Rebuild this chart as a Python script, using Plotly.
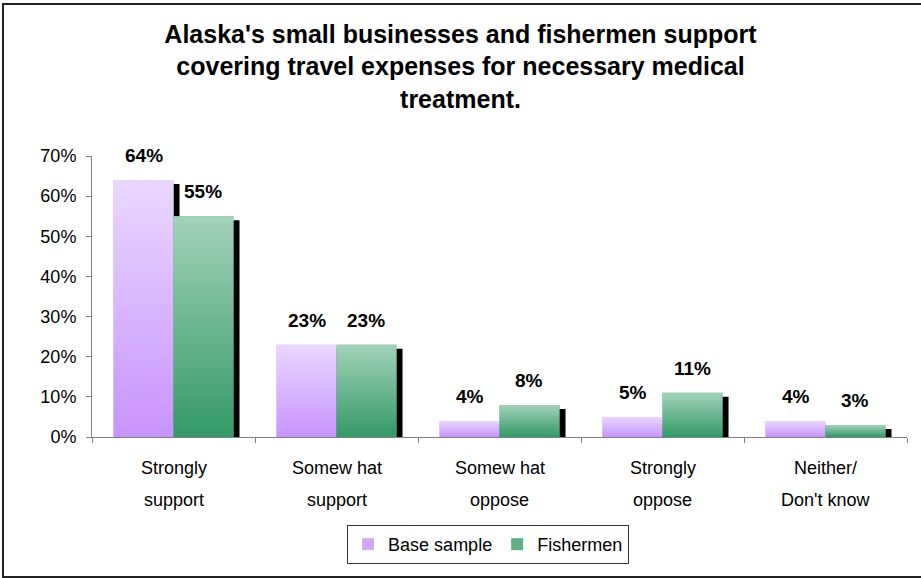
import plotly.graph_objects as go

# Survey results: share of respondents by level of support
categories = ["Strongly<br>support", "Somew hat<br>support", "Somew hat<br>oppose",
              "Strongly<br>oppose", "Neither/<br>Don't know"]
base_sample = [0.64, 0.23, 0.04, 0.05, 0.04]
fishermen = [0.55, 0.23, 0.08, 0.11, 0.03]
y_ticks = [0.0, 0.1, 0.2, 0.3, 0.4, 0.5, 0.6, 0.7]

FONT = "Liberation Sans, Arial, sans-serif"
BAR_W = 0.368          # width of one bar, in category units
SHADOW_DX = 0.037      # drop-shadow offset to the right
SHADOW_DY = 0.01       # drop-shadow offset downward (in value units)

series = [
    dict(name="Base sample", values=base_sample, offset=-BAR_W,
         solid="#D2A8FF", grad=[[0, "#C893FF"], [1, "#EAD7FF"]]),
    dict(name="Fishermen", values=fishermen, offset=0.0,
         solid="#5FAE85", grad=[[0, "#339966"], [1, "#A3D2BA"]]),
]

xs = list(range(len(categories)))
fig = go.Figure()

# black drop shadows behind the bars
for s in series:
    fig.add_trace(go.Bar(
        x=xs, y=[max(v - SHADOW_DY, 0) for v in s["values"]],
        width=BAR_W, offset=s["offset"] + SHADOW_DX,
        marker=dict(color="black", line=dict(width=0)),
        showlegend=False, hoverinfo="skip"))

# the bars themselves (solid fill, also used for the legend)
for s in series:
    fig.add_trace(go.Bar(
        x=xs, y=s["values"], width=BAR_W, offset=s["offset"], name=s["name"],
        marker=dict(color=s["solid"], line=dict(width=0)),
        hovertemplate="%{y:.0%}<extra>" + s["name"] + "</extra>"))

# vertical gradient overlay on each bar
for s in series:
    for i, v in enumerate(s["values"]):
        x0 = i + s["offset"]
        x1 = x0 + BAR_W
        fig.add_trace(go.Scatter(
            x=[x0, x1, x1, x0, x0], y=[0, 0, v, v, 0],
            mode="none", fill="toself",
            fillgradient=dict(type="vertical", colorscale=s["grad"]),
            showlegend=False, hoverinfo="skip"))

annotations = []
# value labels above the bars
for s in series:
    for i, v in enumerate(s["values"]):
        annotations.append(dict(
            x=i + s["offset"] + BAR_W / 2, y=v, xref="x", yref="y",
            text=f"<b>{round(v * 100)}%</b>", showarrow=False,
            yanchor="bottom", yshift=12,
            font=dict(family=FONT, size=19, color="black")))

# two-line category labels under the axis
for i, cat in enumerate(categories):
    for j, line in enumerate(cat.split("<br>")):
        annotations.append(dict(
            x=i, y=0, xref="x", yref="paper", text=line, showarrow=False,
            yanchor="middle", yshift=-31 - 32 * j,
            font=dict(family=FONT, size=18, color="black")))

fig.update_layout(
    width=921, height=578,
    margin=dict(l=92, r=14, t=156, b=141),
    paper_bgcolor="white", plot_bgcolor="white",
    barmode="overlay",
    title=dict(
        text="<b>Alaska's small businesses and fishermen support<br>"
             "covering travel expenses for necessary medical<br>treatment.</b>",
        x=0.5, xref="container", xanchor="center",
        y=0.926, yref="container", yanchor="top",
        font=dict(family=FONT, size=25, color="black")),
    xaxis=dict(
        range=[-0.5, len(categories) - 0.5],
        tickvals=[i - 0.5 for i in range(len(categories) + 1)],
        showticklabels=False, ticks="outside", ticklen=5, tickcolor="#808080",
        showline=True, linecolor="#808080", linewidth=1,
        showgrid=False, zeroline=False, fixedrange=True),
    yaxis=dict(
        range=[0, 0.7], tickvals=y_ticks, tickformat=".0%",
        ticks="outside", ticklen=5, tickcolor="#808080",
        showline=True, linecolor="#808080", linewidth=1,
        showgrid=False, zeroline=False, ticklabelstandoff=6,
        tickfont=dict(family=FONT, size=18, color="black")),
    legend=dict(
        orientation="h", x=0.486, xanchor="center", y=-0.313, yanchor="top",
        bordercolor="#333333", borderwidth=1,
        font=dict(family=FONT, size=18, color="black"),
        itemclick=False, itemdoubleclick=False),
    annotations=annotations,
    shapes=[dict(type="rect", xref="paper", yref="paper",
                 x0=-0.1092, x1=1.0184, y0=-0.498, y1=1.541,
                 line=dict(color="#222222", width=2), layer="above")],
)

fig.write_html("out.html")
